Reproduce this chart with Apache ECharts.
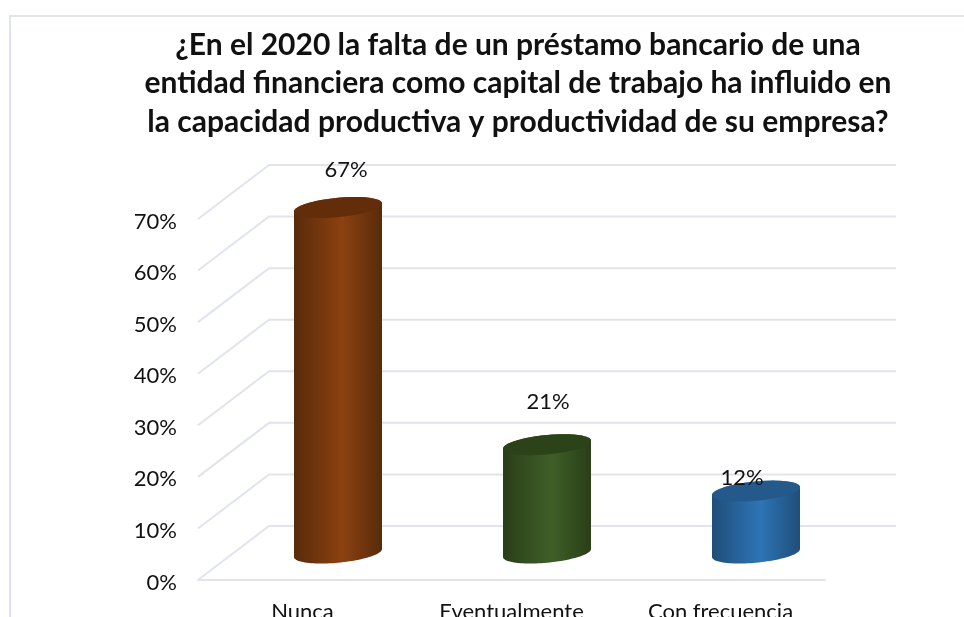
<!DOCTYPE html>
<html>
<head>
<meta charset="utf-8">
<style>
  html, body { margin: 0; padding: 0; background: #fff; overflow: hidden; }
  #chart { width: 964px; height: 617px; }
</style>
<script src="https://cdn.jsdelivr.net/npm/echarts@6/dist/echarts.min.js"></script>
</head>
<body>
<div id="chart"></div>
<script>
const categories = ['Nunca', 'Eventualmente', 'Con frecuencia']
const values = [67, 21, 12]
const ticks = [0, 10, 20, 30, 40, 50, 60, 70]
const titleLines = [
  '¿En el 2020 la falta de un préstamo bancario de una',
  'entidad financiera como capital de trabajo ha influido en',
  'la capacidad productiva y productividad de su empresa?',
]

// edge, middle, top cap
const barColors = [
  ['#582B0B', '#8C4110', '#632D0A'],
  ['#2A3E18', '#3F5F27', '#2C4219'],
  ['#1F4E79', '#2E75B6', '#245A8B'],
]
// label nudge from the top of each cylinder
const labelNudge = [[8, -38], [1, -43], [-14, -13]]

// fake 3d: how far the back wall sits from the front of the floor
const depthX = 71
const depthY = -54
const wallRight = 896
const lineColor = '#E1E4EC'
const font = 'Lato, Carlito, sans-serif'

const radiusX = 44
const radiusY = 9.7
const skew = 4

function capPoints(cx, cy, from, to) {
  const pts = []
  for (let i = 0; i <= 48; i++) {
    const t = from + (to - from) * i / 48
    pts.push([cx + radiusX * Math.cos(t), cy + radiusY * Math.sin(t) - skew * Math.cos(t)])
  }
  return pts
}

function renderWall(params, api) {
  const p = api.coord([0, api.value(0)])
  const x0 = params.coordSys.x
  return {
    type: 'polyline',
    shape: { points: [[x0, p[1]], [x0 + depthX, p[1] + depthY], [wallRight, p[1] + depthY]] },
    style: { stroke: lineColor, lineWidth: 2, fill: null },
  }
}

function renderCylinder(params, api) {
  const i = params.dataIndex
  const top = api.coord([i, api.value(1)])
  const base = api.coord([i, 0])
  const cx = top[0] + depthX / 2
  const topY = top[1] + depthY / 2
  const baseY = base[1] + depthY / 2
  const c = barColors[i]
  const body = capPoints(cx, baseY, 0, Math.PI).concat(capPoints(cx, topY, Math.PI, 2 * Math.PI))
  return {
    type: 'group',
    children: [
      {
        type: 'polygon',
        shape: { points: body },
        style: {
          fill: new echarts.graphic.LinearGradient(0, 0, 1, 0, [
            { offset: 0, color: c[0] },
            { offset: 0.55, color: c[1] },
            { offset: 1, color: c[0] },
          ]),
        },
      },
      {
        type: 'polygon',
        shape: { points: capPoints(cx, topY, 0, 2 * Math.PI) },
        style: { fill: c[2] },
      },
      {
        type: 'text',
        z2: 10,
        style: {
          x: cx + labelNudge[i][0],
          y: topY + labelNudge[i][1],
          text: api.value(1) + '%',
          fill: '#111',
          font: '22px ' + font,
          align: 'center',
          verticalAlign: 'middle',
        },
      },
    ],
  }
}

const chart = echarts.init(document.getElementById('chart'))

chart.setOption({
  animation: false,
  backgroundColor: '#fff',
  title: {
    text: titleLines.join('\n'),
    left: 513,
    top: 21,
    textAlign: 'center',
    textStyle: { fontFamily: font, fontWeight: 'bold', fontSize: 30, lineHeight: 38.5, color: '#111' },
  },
  graphic: [
    {
      type: 'rect',
      silent: true,
      shape: { x: 10, y: 16, width: 1100, height: 800 },
      style: { stroke: lineColor, lineWidth: 2, fill: null },
    },
  ],
  grid: { left: 198, right: 139, top: 219, bottom: 37, outerBoundsMode: 'none' },
  xAxis: {
    type: 'category',
    data: categories,
    axisLine: { lineStyle: { color: lineColor, width: 2 } },
    axisTick: { show: false },
    axisLabel: { margin: 21, fontFamily: font, fontSize: 22, color: '#111' },
  },
  yAxis: {
    type: 'value',
    min: 0,
    max: 70,
    interval: 10,
    axisLine: { show: false },
    axisTick: { show: false },
    splitLine: { show: false },
    axisLabel: {
      margin: 21,
      formatter: '{nudge|{value}%}',
      rich: { nudge: { padding: [5, 0, 0, 0], fontFamily: font, fontSize: 22, color: '#111' } },
    },
  },
  series: [
    {
      type: 'custom',
      z: 1,
      silent: true,
      renderItem: renderWall,
      data: ticks.map(t => [t]),
      encode: { y: 0 },
    },
    {
      type: 'custom',
      z: 2,
      silent: true,
      renderItem: renderCylinder,
      data: values.map((v, i) => [i, v]),
      encode: { x: 0, y: 1 },
    },
  ],
})
</script>
</body>
</html>
